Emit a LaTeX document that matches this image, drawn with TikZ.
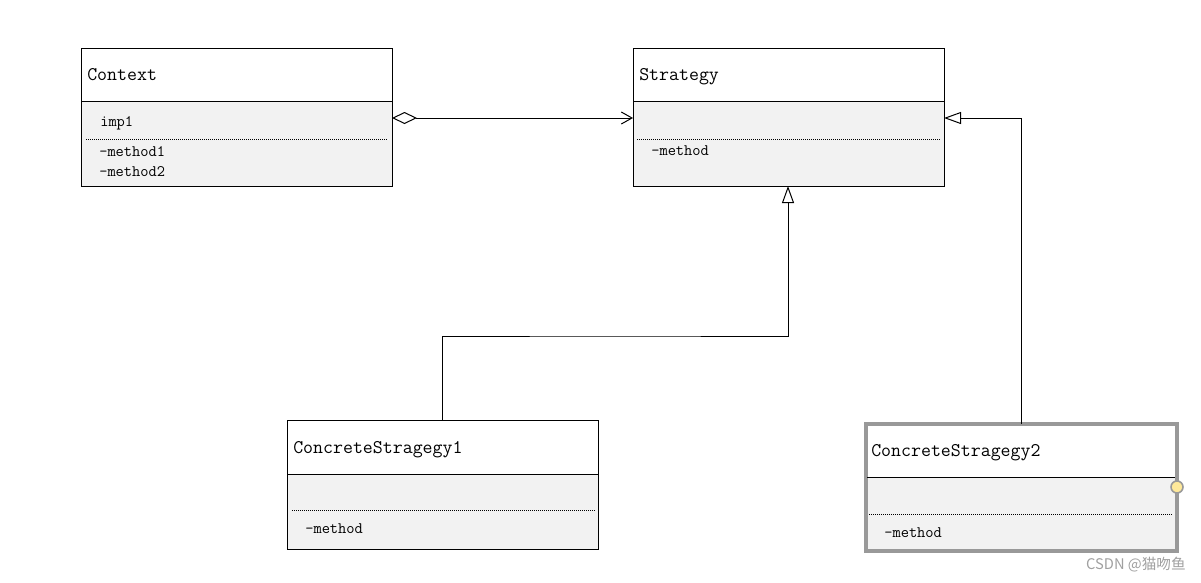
\documentclass[tikz,border=0pt]{standalone}
\usepackage{fontspec}
\newfontfamily\cjk{Noto Sans CJK SC}
\usetikzlibrary{arrows.meta,fit}
\definecolor{compfill}{HTML}{F2F2F2}
\definecolor{selgray}{HTML}{999999}
\definecolor{handle}{HTML}{FFE99A}
\definecolor{wm}{HTML}{A0A0A0}
\tikzset{
  umlbox/.style={draw=black, line width=0.75pt, inner sep=0pt},
  selbox/.style={draw=selgray, line width=2.4pt, inner sep=0pt},
  comp/.style={fill=compfill},
  divline/.style={draw=black, line width=0.75pt},
  dotline/.style={draw=black, line width=0.55pt, dash pattern=on 0.75pt off 0.75pt},
  title/.style={anchor=base west, inner sep=0pt, font=\ttfamily\fontsize{14.5}{16}\selectfont},
  item/.style={anchor=base west, inner sep=0pt, font=\ttfamily\fontsize{12}{14}\selectfont},
  conn/.style={draw=black, line width=0.75pt},
  gen/.style={conn, -{Triangle[open, length=12.75pt, width=9pt]}},
  agg/.style={conn, {Diamond[open, length=18.75pt, width=9pt]}-{Straight Barb[length=8pt, width=9pt]}},
}
\begin{document}
\begin{tikzpicture}[x=0.75pt, y=-0.75pt]
\useasboundingbox (0,0) rectangle (1201,582);
% Context
\fill[comp] (81,101) rectangle (392,186);
\node[umlbox, fit={(81,48)(392,186)}] (ctx) {};
\draw[divline] (81,101) -- (392,101);
\draw[dotline] (86,139) -- (388,139);
\node[title] (ctxT) at (87,80) {Context};
\node[item] (ctxA) at (100,126) {imp1};
\node[item] (ctxM1) at (99,156) {-method1};
\node[item] (ctxM2) at (99,176) {-method2};
% Strategy
\fill[comp] (633,101) rectangle (944,186);
\node[umlbox, fit={(633,48)(944,186)}] (str) {};
\draw[divline] (633,101) -- (944,101);
\draw[dotline] (637,139) -- (940,139);
\node[title] (strT) at (639,80) {Strategy};
\node[item] (strM) at (651,155) {-method};
% ConcreteStragegy1
\fill[comp] (287,474) rectangle (598,549);
\node[umlbox, fit={(287,420)(598,549)}] (cs1) {};
\draw[divline] (287,474) -- (598,474);
\draw[dotline] (292,510) -- (595,510);
\node[title] (cs1T) at (293,453) {ConcreteStragegy1};
\node[item] (cs1M) at (305,533) {-method};
% ConcreteStragegy2
\fill[comp] (866,477) rectangle (1177,551);
\node[selbox, fit={(866,424)(1177,551)}] (cs2) {};
\draw[divline] (867,477) -- (1175,477);
\draw[dotline] (869,514) -- (1173,514);
\node[title] (cs2T) at (871,456) {ConcreteStragegy2};
\node[item] (cs2M) at (884,537) {-method};
\node[circle, draw=selgray, line width=1.2pt, fill=handle, minimum size=9pt, inner sep=0pt] (hdl) at (1177,487) {};
% connectors
\coordinate (aggS) at (392,118);
\coordinate (aggE) at (633,118);
\draw[agg] (aggS) -- (aggE);
\coordinate (g1s) at (442,420);
\coordinate (g1e) at (788,186);
\draw[gen] (g1s) |- (615,336) -| (g1e);
\coordinate (g2s) at (1021,424);
\coordinate (g2e) at (944,118);
\draw[gen] (g2s) |- (g2e);
% watermark
\node[anchor=east, inner sep=0pt, text=wm, font=\cjk\fontsize{11}{13}\selectfont] (wmk) at (1186,565) {CSDN @猫吻鱼};
\end{tikzpicture}
\end{document}
